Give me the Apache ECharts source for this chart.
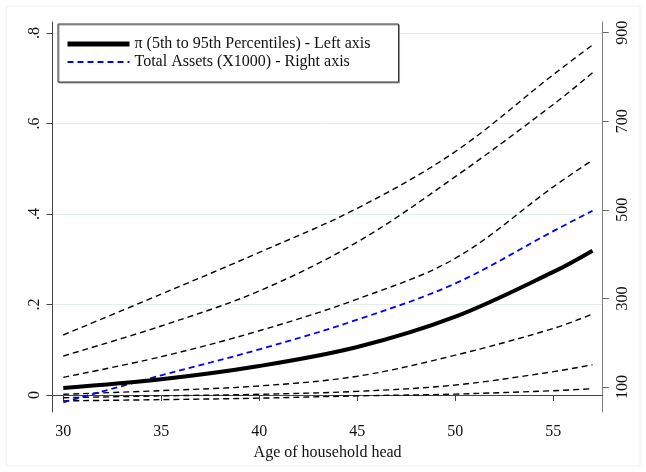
<!DOCTYPE html>
<html>
<head>
<meta charset="utf-8">
<script src="https://cdn.jsdelivr.net/npm/echarts@6/dist/echarts.min.js"></script>
<style>
  html, body { margin: 0; padding: 0; background: #fff; }
  #chart { width: 646px; height: 472px; }
</style>
</head>
<body>
<div id="chart"></div>
<script>
// ages on the x axis
var ages = [30, 35, 40, 45, 50, 55, 57];
// pi percentiles (left axis)
var p5  = [-0.013, -0.0103, -0.007, -0.002, 0.002, 0.0095, 0.014];
var p10 = [-0.006, -0.002, 0.0015, 0.008, 0.022, 0.0515, 0.067];
var p25 = [0.0015, 0.0096, 0.020, 0.0415, 0.088, 0.147, 0.179];
var p50 = [0.0155, 0.0347, 0.064, 0.106, 0.173, 0.272, 0.319];
var p75 = [0.039, 0.0847, 0.142, 0.212, 0.302, 0.46, 0.519];
var p90 = [0.0862, 0.1525, 0.23, 0.338, 0.4825, 0.642, 0.712];
var p95 = [0.1326, 0.223, 0.315, 0.4126, 0.538, 0.708, 0.7735];
// total assets x1000 (right axis)
var assets = [65.5, 126.4, 185, 252, 334, 452, 498];

var xTicks = [30, 35, 40, 45, 50, 55];
var leftTicks = [0, 0.2, 0.4, 0.6, 0.8];
var rightTicks = [100, 300, 500, 700, 900];

var piName = 'π (5th to 95th Percentiles) - Left axis';
var assetName = 'Total Assets (X1000) - Right axis';

function pairs(ys) {
  return ages.map(function (a, i) { return [a, ys[i]]; });
}

var font = 'Liberation Serif, Times New Roman, serif';

function dashed(name, ys) {
  return {
    name: name, type: 'line', data: pairs(ys), yAxisIndex: 0,
    symbol: 'none', smooth: 0.35,
    lineStyle: { color: '#000', width: 1.4, type: [6, 4] }
  };
}

var myChart = echarts.init(document.getElementById('chart'));

var option = {
  backgroundColor: '#fff',
  animation: false,
  textStyle: { fontFamily: font },
  graphic: [{
    type: 'rect', shape: { x: 6, y: 6, width: 634, height: 460 },
    style: { fill: 'none', stroke: '#eeeeee', lineWidth: 1 }, z: -1
  }],
  grid: { left: 52.5, right: 43.3, top: 22, bottom: 60 },
  legend: {
    data: [
      { name: piName, lineStyle: { width: 5, color: '#000', type: 'solid' } },
      { name: assetName, lineStyle: { width: 1.8, color: '#0000ff', type: [6, 4] } }
    ],
    orient: 'vertical',
    left: 58, top: 24,
    padding: [12, 28, 12, 7],
    itemGap: 2,
    itemWidth: 62, itemHeight: 14,
    itemStyle: { opacity: 0 },
    backgroundColor: '#fff',
    borderColor: '#333', borderWidth: 1,
    shadowColor: '#999', shadowOffsetX: 1, shadowOffsetY: 1, shadowBlur: 0,
    textStyle: { fontFamily: font, fontSize: 16, color: '#111' }
  },
  xAxis: {
    type: 'value', min: 29.45, max: 57.52,
    name: 'Age of household head', nameLocation: 'middle', nameGap: 27,
    nameTextStyle: { fontFamily: font, fontSize: 16, color: '#111' },
    axisLine: { lineStyle: { color: '#444', width: 1 } },
    axisTick: { length: 6, customValues: xTicks, lineStyle: { color: '#444' } },
    axisLabel: { customValues: xTicks, margin: 12, fontFamily: font, fontSize: 16, color: '#111' },
    splitLine: { show: false }
  },
  yAxis: [{
    type: 'value', min: -0.0376, max: 0.8243, position: 'left',
    axisLine: { show: true, lineStyle: { color: '#444', width: 1 } },
    axisTick: { show: true, length: 6, customValues: leftTicks, lineStyle: { color: '#444' } },
    axisLabel: {
      customValues: leftTicks, rotate: 90, margin: 10,
      fontFamily: font, fontSize: 16, color: '#111',
      formatter: function (v) { return v === 0 ? '0' : String(+v.toFixed(1)).replace('0.', '.'); }
    },
    splitLine: { show: true, lineStyle: { color: '#e6eded', width: 1 } }
  }, {
    type: 'value', min: 43.6, max: 924.2, position: 'right',
    axisLine: { show: true, lineStyle: { color: '#808080', width: 1 } },
    axisTick: { show: true, length: 6, customValues: rightTicks, lineStyle: { color: '#666' } },
    axisLabel: {
      customValues: rightTicks, rotate: 90, margin: 12,
      fontFamily: font, fontSize: 16, color: '#111'
    },
    splitLine: { show: false }
  }],
  series: [
    dashed('p95', p95),
    dashed('p90', p90),
    dashed('p75', p75),
    dashed('p25', p25),
    dashed('p10', p10),
    dashed('p5', p5),
    {
      name: assetName, type: 'line', data: pairs(assets), yAxisIndex: 1,
      symbol: 'none', smooth: 0.35,
      lineStyle: { color: '#0000ff', width: 1.8, type: [6, 4] },
      itemStyle: { color: '#0000ff' }
    },
    {
      name: piName, type: 'line', data: pairs(p50), yAxisIndex: 0,
      symbol: 'none', smooth: 0.35,
      lineStyle: { color: '#000', width: 4 },
      itemStyle: { color: '#000' }
    }
  ]
};

myChart.setOption(option);
</script>
</body>
</html>
